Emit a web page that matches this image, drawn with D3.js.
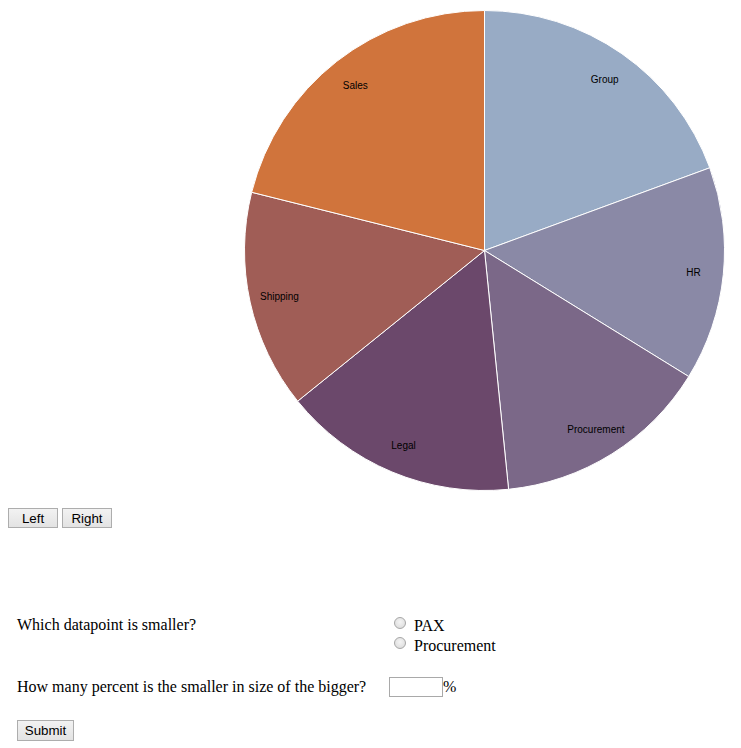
<!DOCTYPE html>
<html>
<head>
<meta charset="utf-8">
<script src="https://cdn.jsdelivr.net/npm/d3@7"></script>
<style>
  html, body { margin: 0; padding: 0; background: #fff; width: 741px; height: 748px; overflow: hidden; }
  body { position: relative; font-family: "Liberation Serif", "Times New Roman", serif; font-size: 16px; color: #000; }
  svg { position: absolute; left: 0; top: 0; }
  .btn {
    position: absolute; box-sizing: border-box; height: 20px; padding: 0;
    font-family: "Liberation Sans", Arial, sans-serif; font-size: 13.33px; color: #000;
    border: 1px solid #adadad; border-radius: 0;
    background: linear-gradient(#f2f2f2, #e3e3e3);
    line-height: 17px; text-align: center;
  }
  .txt { position: absolute; white-space: nowrap; line-height: 18px; }
  .radio {
    position: absolute; width: 12px; height: 12px; box-sizing: border-box; margin: 0;
    -webkit-appearance: none; appearance: none; border-radius: 50%;
    border: 1px solid #a6a6a6; background: radial-gradient(circle at 50% 40%, #f4f4f4, #d8d8d8);
  }
  .inp {
    position: absolute; box-sizing: border-box; width: 54px; height: 20px; margin: 0;
    border: 1px solid #a9a9a9; background: #fff; padding: 0;
  }
</style>
</head>
<body>
<svg id="chart" width="741" height="500"></svg>

<button class="btn" style="left:8px; top:508px; width:50px;">Left</button>
<button class="btn" style="left:62px; top:508px; width:50px;">Right</button>

<div class="txt" style="left:17px; top:616px;">Which datapoint is smaller?</div>
<input type="radio" class="radio" name="q" style="left:394px; top:617px;">
<div class="txt" style="left:414px; top:617px;">PAX</div>
<input type="radio" class="radio" name="q" style="left:394px; top:637px;">
<div class="txt" style="left:414px; top:637px;">Procurement</div>

<div class="txt" style="left:17px; top:678px;">How many percent is the smaller in size of the bigger?</div>
<input type="text" class="inp" style="left:389px; top:677px;">
<div class="txt" style="left:443px; top:678px;">%</div>

<button class="btn" style="left:17px; top:720px; width:57px; height:21px;">Submit</button>

<script>
const categories = ["Group", "HR", "Procurement", "Legal", "Shipping", "Sales"];
const values = [19.4, 14.4, 14.6, 15.8, 14.7, 21.1];
const colors = ["#98abc5", "#8a89a6", "#7b6888", "#6b486b", "#a05d56", "#d0743c"];

const data = categories.map((c, i) => ({ name: c, value: values[i] }));

const cx = 484.5, cy = 250.5, radius = 240;
const svg = d3.select("#chart");
const g = svg.append("g").attr("transform", `translate(${cx},${cy})`);

const color = d3.scaleOrdinal().domain(categories).range(colors);
const pie = d3.pie().sort(null).value(d => d.value);
const arc = d3.arc().innerRadius(0).outerRadius(radius);
const labelArc = d3.arc().innerRadius(radius - 30).outerRadius(radius - 30);

const arcs = g.selectAll(".arc").data(pie(data)).enter().append("g").attr("class", "arc");

arcs.append("path")
  .attr("d", arc)
  .attr("fill", d => color(d.data.name))
  .attr("stroke", "#fff")
  .attr("stroke-width", 1);

arcs.append("text")
  .attr("transform", d => `translate(${labelArc.centroid(d)})`)
  .attr("dy", ".45em")
  .attr("text-anchor", "middle")
  .style("font-family", "'Liberation Sans', Arial, sans-serif")
  .style("font-size", "10px")
  .attr("fill", "#000")
  .text(d => d.data.name);
</script>
</body>
</html>
